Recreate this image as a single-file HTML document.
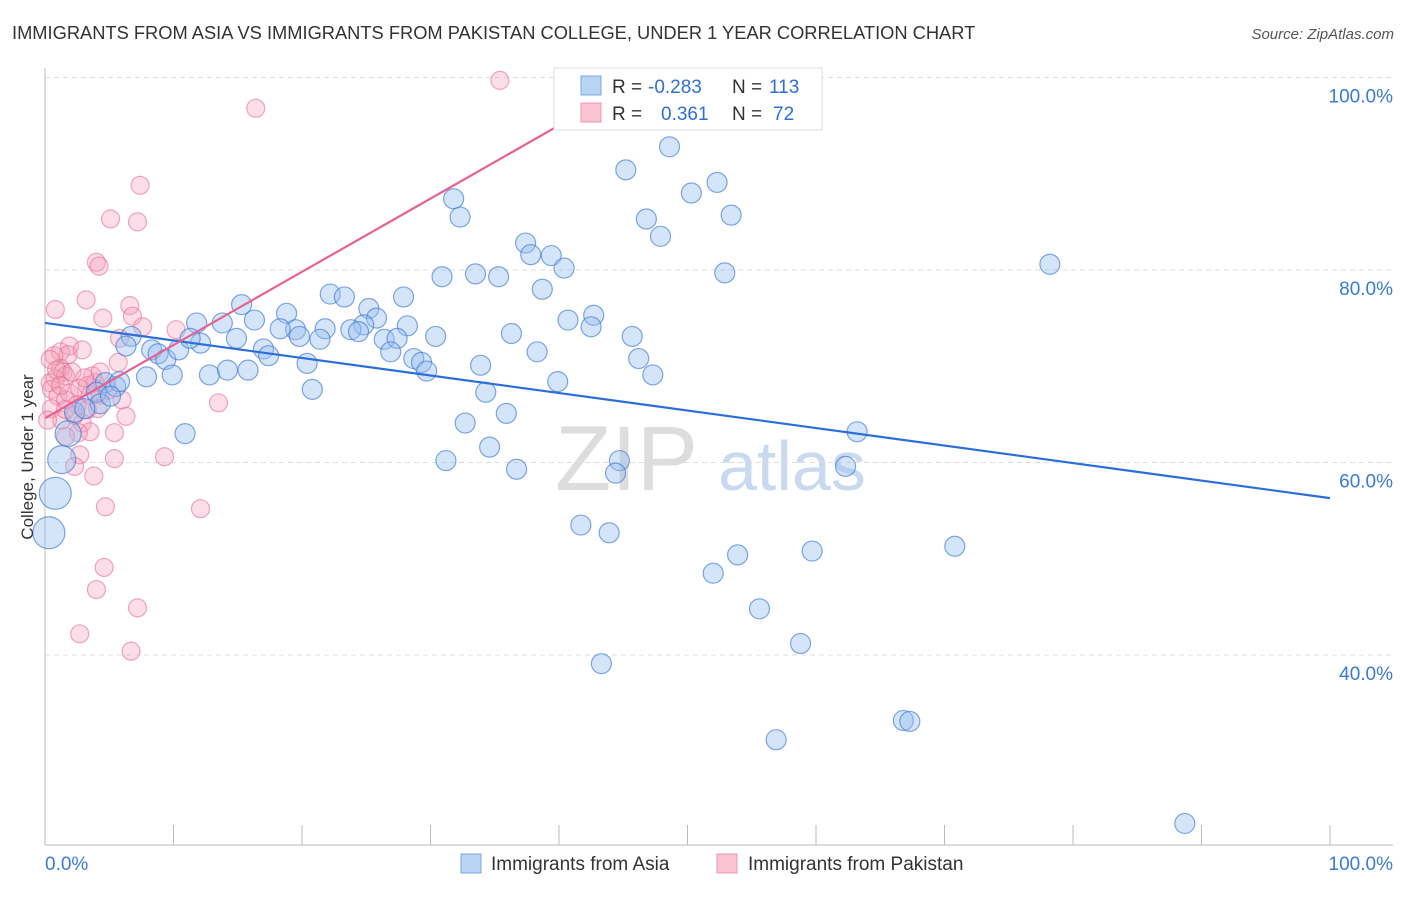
<!DOCTYPE html>
<html><head><meta charset="utf-8"><style>
body{margin:0;background:#fff;font-family:"Liberation Sans",sans-serif;}
svg text{font-family:"Liberation Sans",sans-serif;}
</style></head><body>
<svg id="chart" width="1406" height="892" xmlns="http://www.w3.org/2000/svg">
<text x="12" y="39" font-size="18.3" fill="#333">IMMIGRANTS FROM ASIA VS IMMIGRANTS FROM PAKISTAN COLLEGE, UNDER 1 YEAR CORRELATION CHART</text>
<text x="1394" y="39" font-size="15" fill="#555" text-anchor="end" font-style="italic">Source: ZipAtlas.com</text>
<g><text x="555" y="490" font-size="92" fill="#ddd" font-family="Liberation Serif">ZIP</text><text x="718" y="490" font-size="70" fill="#c9daf0">atlas</text></g>
<g id="grid"></g><g id="axes"></g><g id="marks"></g>
<text transform="translate(33,457) rotate(-90)" font-size="17" fill="#333" text-anchor="middle">College, Under 1 year</text>
<g>
<rect x="554" y="68" width="268" height="62" fill="#fff" stroke="#ddd"/>
<rect x="581" y="76" width="20" height="19" fill="#b9d3f4" stroke="#7aa7e0"/>
<rect x="581" y="103" width="20" height="19" fill="#f9c3d2" stroke="#ef94ae"/>
<text x="612" y="93" font-size="19" fill="#333">R =</text>
<text x="648" y="93" font-size="19" fill="#2f6fd6">-0.283</text>
<text x="732" y="93" font-size="19" fill="#333">N =</text>
<text x="769" y="93" font-size="19" fill="#2f6fd6">113</text>
<text x="612" y="120" font-size="19" fill="#333">R =</text>
<text x="661" y="120" font-size="19" fill="#2f6fd6">0.361</text>
<text x="732" y="120" font-size="19" fill="#333">N =</text>
<text x="773" y="120" font-size="19" fill="#2f6fd6">72</text>
</g>
<g>
<rect x="461" y="854" width="20" height="19" fill="#b9d3f4" stroke="#7aa7e0"/>
<text x="491" y="870" font-size="19" fill="#333">Immigrants from Asia</text>
<rect x="717" y="854" width="20" height="19" fill="#f9c3d2" stroke="#ef94ae"/>
<text x="748" y="870" font-size="19" fill="#333">Immigrants from Pakistan</text>
</g>
</svg>
<script>
const yTicks=[40,60,80,100];
const xTickLabels=["0.0%","100.0%"];
const asiaX=[48.6,45.2,50.3,52.3,53.4,46.8,47.9,31.8,32.3,37.4,39.4,40.4,37.8,52.9,78.2,30.9,33.5,35.3,38.7,27.9,22.2,23.3,15.3,18.8,25.2,25.8,24.8,40.7,42.7,42.5,36.3,45.7,28.2,30.4,26.4,27.4,21.8,23.8,24.4,19.5,18.3,19.8,21.4,16.3,13.8,11.8,12.1,14.9,17.0,17.4,20.4,26.9,28.7,29.3,29.7,33.9,38.3,46.2,47.3,39.9,6.7,6.3,8.3,8.8,9.4,10.4,11.3,12.8,14.2,15.8,9.9,7.9,20.8,34.3,35.9,32.7,34.6,31.2,36.7,44.7,44.4,63.2,62.3,10.9,1.8,1.3,0.8,0.3,4.7,5.5,5.8,4.0,4.3,5.1,2.3,3.1,41.7,43.9,53.9,52.0,59.7,70.8,55.6,58.8,43.3,56.9,66.8,67.3,88.7];
const asiaY=[92.8,90.4,88.0,89.1,85.7,85.3,83.5,87.4,85.5,82.8,81.5,80.2,81.6,79.7,80.6,79.3,79.6,79.3,78.0,77.2,77.5,77.2,76.4,75.5,76.0,75.0,74.3,74.8,75.3,74.1,73.4,73.1,74.2,73.1,72.8,72.9,73.9,73.8,73.6,73.8,73.9,73.1,72.8,74.8,74.5,74.5,72.4,72.9,71.8,71.1,70.3,71.5,70.8,70.4,69.5,70.1,71.5,70.8,69.1,68.4,73.1,72.1,71.7,71.3,70.7,71.7,72.9,69.1,69.6,69.6,69.1,68.9,67.6,67.3,65.1,64.1,61.6,60.2,59.3,60.2,58.9,63.2,59.6,63.0,63.0,60.3,56.8,52.7,68.3,67.9,68.4,67.3,66.1,66.9,65.2,65.6,53.5,52.7,50.4,48.5,50.8,51.3,44.8,41.2,39.1,31.2,33.2,33.1,22.5];
const asiaSize=[];asiaSize[84]=13;asiaSize[85]=14;asiaSize[86]=16;asiaSize[87]=16;
const pakX=[35.4,16.4,7.4,5.1,7.2,4.0,4.2,3.2,0.8,6.6,6.8,4.5,7.6,10.2,5.8,1.9,1.2,1.8,0.7,2.9,1.2,1.4,1.6,0.8,0.4,0.5,1.0,1.6,1.9,2.7,3.7,3.3,3.9,4.3,4.9,2.5,3.3,4.1,0.5,1.3,2.3,2.9,3.5,2.6,1.6,5.7,6.0,6.3,13.5,5.4,2.7,2.3,5.4,3.8,9.3,4.7,12.1,4.6,4.0,7.2,2.7,6.7,0.2,0.4,0.9,2.1,3.1,1.6,3.5,1.2,4.3];
const pakY=[99.7,96.8,88.8,85.3,85.0,80.8,80.4,76.9,75.9,76.3,75.2,75.0,74.1,73.8,72.9,72.1,71.5,71.2,71.1,71.7,69.8,69.4,69.0,68.7,68.3,67.6,66.9,66.5,67.2,67.7,69.0,68.0,68.3,67.0,67.5,66.0,65.5,65.6,65.6,64.4,64.9,64.1,63.2,63.1,62.7,70.4,66.5,64.8,66.2,63.1,60.8,59.6,60.4,58.6,60.6,55.4,55.2,49.1,46.8,44.9,42.2,40.4,64.4,70.7,69.6,69.4,68.8,65.5,67.0,68.0,69.4];
const asiaTrend=[[0,74.5],[100,56.3]];
const pakTrend=[[0,64.6],[40.1,95.1]];
const NS="http://www.w3.org/2000/svg";
const X0=45,X1=1330,Y_ZERO=1040,PXPER=9.625;
function sx(v){return X0+(X1-X0)*v/100;}
function sy(v){return Y_ZERO-v*PXPER;}
function mk(tag,attrs,parent){const e=document.createElementNS(NS,tag);for(const k in attrs)e.setAttribute(k,attrs[k]);parent.appendChild(e);return e;}
const grid=document.getElementById('grid'),axes=document.getElementById('axes'),marks=document.getElementById('marks');
yTicks.forEach(t=>{
  const l=mk('line',{x1:45,x2:1393,y1:sy(t),y2:sy(t),stroke:'#ddd','stroke-dasharray':'5,4'},grid);
  
  
  const tx=mk('text',{x:1393,y:sy(t)+25,'font-size':19,fill:'#3a7bd5','text-anchor':'end'},axes);
  tx.textContent=t.toFixed(1)+'%';
  
  
});
const ax=mk('line',{x1:45,x2:1393,y1:845,y2:845,stroke:'#bbb'},axes);


const ay=mk('line',{x1:45,x2:45,y1:68,y2:845,stroke:'#bbb'},axes);


for(let i=0;i<=10;i++){
  const t=mk('line',{x1:sx(i*10),x2:sx(i*10),y1:825,y2:845,stroke:'#bbb'},axes);
  
  
}
[[0,'start',45],[1,'end',1393]].forEach(([i,a,x])=>{
  const t=mk('text',{x:x,y:870,'font-size':19,fill:'#3a7bd5','text-anchor':a},axes);
  t.textContent=xTickLabels[i];
  
  
});
pakX.forEach((x,i)=>{
  const c=mk('circle',{cx:sx(x),cy:sy(pakY[i]),r:9,fill:'rgba(244,160,185,0.35)',stroke:'rgba(232,110,150,0.6)','stroke-width':1.2},marks);
  
  
});
asiaX.forEach((x,i)=>{
  const c=mk('circle',{cx:sx(x),cy:sy(asiaY[i]),r:asiaSize[i]||10,fill:'rgba(150,190,240,0.4)',stroke:'rgba(60,120,215,0.65)','stroke-width':1.2},marks);
  
  
});
const l1=mk('line',{x1:sx(asiaTrend[0][0]),y1:sy(asiaTrend[0][1]),x2:sx(asiaTrend[1][0]),y2:sy(asiaTrend[1][1]),stroke:'#2a6fd8','stroke-width':2.2},marks);


const l2=mk('line',{x1:sx(pakTrend[0][0]),y1:sy(pakTrend[0][1]),x2:sx(pakTrend[1][0]),y2:sy(pakTrend[1][1]),stroke:'#e8628f','stroke-width':2.2},marks);


</script>
</body></html>
